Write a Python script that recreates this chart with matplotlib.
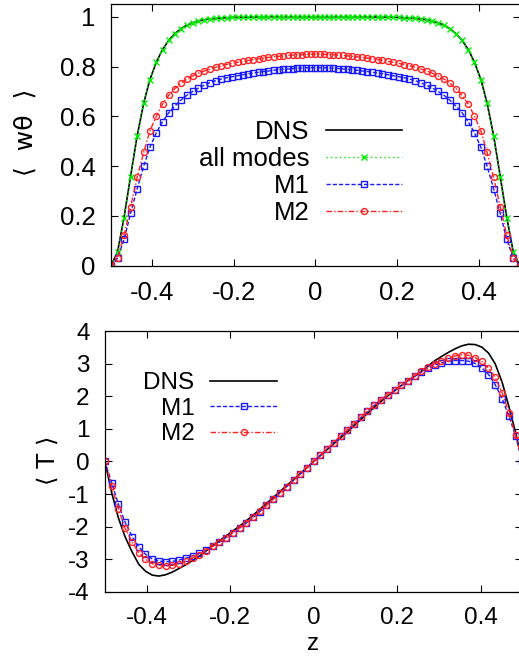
import matplotlib
matplotlib.use("Agg")
import matplotlib.pyplot as plt

plt.rcParams['font.family'] = ['Liberation Sans', 'DejaVu Sans']
plt.rcParams['axes.unicode_minus'] = False

# ---- top panel: <w theta> vs z ----
z_top = [-0.500, -0.484, -0.468, -0.452, -0.436, -0.420, -0.405, -0.389, -0.374, -0.359,
         -0.344, -0.329, -0.315, -0.300, -0.286, -0.272, -0.258, -0.244, -0.230, -0.217,
         -0.204, -0.190, -0.177, -0.164, -0.152, -0.139, -0.127, -0.115, -0.102, -0.090,
         -0.079, -0.067, -0.056, -0.044, -0.033, -0.022, -0.011, 0.000,
         0.011, 0.022, 0.033, 0.044, 0.056, 0.067, 0.079, 0.090, 0.102, 0.115,
         0.127, 0.139, 0.152, 0.164, 0.177, 0.190, 0.204, 0.217, 0.230, 0.244,
         0.258, 0.272, 0.286, 0.300, 0.315, 0.329, 0.344, 0.359, 0.374, 0.389,
         0.405, 0.420, 0.436, 0.452, 0.468, 0.484, 0.500]

wth_dns = [0.000, 0.055, 0.195, 0.360, 0.522, 0.653, 0.747, 0.818, 0.868, 0.905,
           0.932, 0.952, 0.966, 0.976, 0.983, 0.988, 0.991, 0.993, 0.995, 0.996,
           0.997, 0.998, 0.998, 0.999, 0.999, 0.999, 1.000, 1.000, 1.000, 1.000,
           1.000, 1.000, 1.000, 1.000, 1.000, 1.000, 1.000, 1.000,
           1.000, 1.000, 1.000, 1.000, 1.000, 1.000, 1.000, 1.000, 1.000, 1.000,
           1.000, 0.999, 0.999, 0.999, 0.998, 0.998, 0.997, 0.996, 0.995, 0.993,
           0.991, 0.988, 0.983, 0.976, 0.966, 0.952, 0.932, 0.905, 0.868, 0.818,
           0.747, 0.653, 0.522, 0.360, 0.195, 0.055, 0.000]

wth_all = [0.000, 0.054, 0.193, 0.358, 0.521, 0.653, 0.747, 0.818, 0.868, 0.905,
           0.932, 0.952, 0.966, 0.976, 0.983, 0.988, 0.991, 0.993, 0.995, 0.996,
           0.997, 0.998, 0.998, 0.999, 0.999, 0.999, 1.000, 1.000, 1.000, 1.000,
           1.000, 1.000, 1.000, 1.000, 1.000, 1.000, 1.000, 1.000,
           1.000, 1.000, 1.000, 1.000, 1.000, 1.000, 1.000, 1.000, 1.000, 1.000,
           1.000, 0.999, 0.999, 0.999, 0.998, 0.998, 0.997, 0.996, 0.995, 0.993,
           0.991, 0.988, 0.983, 0.976, 0.966, 0.952, 0.932, 0.905, 0.868, 0.818,
           0.747, 0.653, 0.521, 0.358, 0.193, 0.054, 0.000]

wth_m1 = [0.000, 0.030, 0.106, 0.210, 0.309, 0.400, 0.475, 0.534, 0.578, 0.614,
          0.641, 0.665, 0.684, 0.700, 0.714, 0.725, 0.735, 0.743, 0.750, 0.755,
          0.759, 0.763, 0.767, 0.771, 0.774, 0.777, 0.780, 0.782, 0.785, 0.787,
          0.789, 0.790, 0.792, 0.793, 0.794, 0.795, 0.795, 0.796,
          0.795, 0.795, 0.794, 0.793, 0.792, 0.790, 0.789, 0.787, 0.785, 0.782,
          0.780, 0.777, 0.774, 0.771, 0.767, 0.763, 0.759, 0.755, 0.750, 0.743,
          0.735, 0.725, 0.714, 0.700, 0.684, 0.665, 0.641, 0.614, 0.578, 0.534,
          0.475, 0.400, 0.309, 0.210, 0.106, 0.030, 0.000]

wth_m2 = [0.000, 0.032, 0.123, 0.237, 0.355, 0.455, 0.541, 0.601, 0.649, 0.684,
          0.711, 0.733, 0.749, 0.762, 0.773, 0.782, 0.790, 0.797, 0.803, 0.808,
          0.813, 0.817, 0.821, 0.825, 0.828, 0.831, 0.834, 0.837, 0.839, 0.841,
          0.843, 0.845, 0.846, 0.847, 0.848, 0.849, 0.850, 0.850,
          0.850, 0.849, 0.848, 0.847, 0.846, 0.845, 0.843, 0.841, 0.839, 0.837,
          0.834, 0.831, 0.828, 0.825, 0.821, 0.817, 0.813, 0.808, 0.803, 0.797,
          0.790, 0.782, 0.773, 0.762, 0.749, 0.733, 0.711, 0.684, 0.649, 0.601,
          0.541, 0.455, 0.355, 0.237, 0.123, 0.032, 0.000]

# ---- bottom panel: <T> vs z ----
z_bot = [-0.500, -0.484, -0.468, -0.452, -0.435, -0.419, -0.403, -0.387, -0.371, -0.355,
         -0.339, -0.323, -0.306, -0.290, -0.274, -0.258, -0.242, -0.226, -0.210, -0.194,
         -0.177, -0.161, -0.145, -0.129, -0.113, -0.097, -0.081, -0.065, -0.048, -0.032,
         -0.016, 0.000,
         0.016, 0.032, 0.048, 0.065, 0.081, 0.097, 0.113, 0.129, 0.145, 0.161,
         0.177, 0.194, 0.210, 0.226, 0.242, 0.258, 0.274, 0.290, 0.306, 0.323,
         0.339, 0.355, 0.371, 0.387, 0.403, 0.419, 0.435, 0.452, 0.468, 0.484, 0.500]

T_dns = [0.00, -0.96, -1.73, -2.31, -2.78, -3.16, -3.37, -3.49, -3.52, -3.48,
         -3.40, -3.29, -3.17, -3.04, -2.91, -2.75, -2.58, -2.44, -2.29, -2.14,
         -1.98, -1.82, -1.65, -1.47, -1.29, -1.11, -0.93, -0.74, -0.56, -0.37,
         -0.19, 0.00,
         0.18, 0.36, 0.54, 0.73, 0.91, 1.10, 1.29, 1.48, 1.66, 1.84,
         2.01, 2.17, 2.33, 2.48, 2.62, 2.77, 2.93, 3.09, 3.22, 3.35,
         3.46, 3.55, 3.60, 3.59, 3.51, 3.33, 3.00, 2.42, 1.68, 0.88, 0.00]

T_m1 = [0.00, -0.65, -1.31, -1.86, -2.31, -2.62, -2.85, -2.99, -3.06, -3.08,
        -3.07, -3.03, -2.97, -2.90, -2.82, -2.73, -2.61, -2.48, -2.34, -2.19,
        -2.04, -1.89, -1.72, -1.54, -1.35, -1.16, -0.97, -0.78, -0.58, -0.39,
        -0.19, 0.00,
        0.19, 0.39, 0.58, 0.78, 0.97, 1.16, 1.35, 1.54, 1.72, 1.89,
        2.04, 2.19, 2.34, 2.48, 2.61, 2.74, 2.86, 2.96, 3.03, 3.08,
        3.10, 3.10, 3.08, 3.01, 2.88, 2.67, 2.36, 1.92, 1.39, 0.78, 0.00]

T_m2 = [0.00, -0.76, -1.45, -2.04, -2.48, -2.80, -3.01, -3.14, -3.19, -3.21,
        -3.19, -3.14, -3.07, -2.97, -2.86, -2.74, -2.61, -2.48, -2.34, -2.19,
        -2.04, -1.88, -1.71, -1.53, -1.35, -1.16, -0.97, -0.78, -0.58, -0.39,
        -0.19, 0.00,
        0.19, 0.39, 0.58, 0.78, 0.97, 1.16, 1.35, 1.54, 1.72, 1.89,
        2.04, 2.19, 2.34, 2.48, 2.63, 2.77, 2.89, 3.00, 3.09, 3.17,
        3.24, 3.28, 3.26, 3.19, 3.07, 2.87, 2.58, 2.10, 1.50, 0.80, 0.00]

xticks = [-0.4, -0.2, 0, 0.2, 0.4]
xticklabels = ['-0.4', '-0.2', '0', '0.2', '0.4']
yticks_top = [0, 0.2, 0.4, 0.6, 0.8, 1]
yticklabels_top = ['0', '0.2', '0.4', '0.6', '0.8', '1']
yticks_bot = [-4, -3, -2, -1, 0, 1, 2, 3, 4]
yticklabels_bot = ['-4', '-3', '-2', '-1', '0', '1', '2', '3', '4']

W, H = 519, 662
fig = plt.figure(figsize=(W / 100, H / 100), dpi=100)
ax1 = fig.add_axes([111 / W, 1 - 265.7 / H, 408.8 / W, 261.4 / H])
ax2 = fig.add_axes([105 / W, 1 - 591.7 / H, 417.3 / W, 260.5 / H])

green = '#00ee00'
blue = '#1a1aff'
red = '#ff2020'

# top
ax1.plot(z_top, wth_dns, color='black', lw=1.2, label='DNS')
ax1.plot(z_top, wth_all, color=green, lw=1.0, dashes=(1, 2.2), marker='x',
         ms=4.5, mew=1.0, label='all modes')
ax1.plot(z_top, wth_m1, color=blue, lw=1.0, dashes=(3, 1.5), marker='s',
         ms=4.3, mew=1.0, mfc='none', label='M1')
ax1.plot(z_top, wth_m2, color=red, lw=1.0, dashes=(4, 1.5, 1, 1.5), marker='o',
         ms=4.3, mew=1.0, mfc='none', label='M2')

# bottom
ax2.plot(z_bot, T_dns, color='black', lw=1.2, label='DNS')
ax2.plot(z_bot, T_m1, color=blue, lw=1.0, dashes=(3, 1.5), marker='s',
         ms=4.3, mew=1.0, mfc='none', label='M1')
ax2.plot(z_bot, T_m2, color=red, lw=1.0, dashes=(4, 1.5, 1, 1.5), marker='o',
         ms=4.3, mew=1.0, mfc='none', label='M2')

for ax, fs in ((ax1, 18.5), (ax2, 17.5)):
    ax.set_xlim(-0.5, 0.5)
    ax.set_xticks(xticks)
    ax.set_xticklabels(xticklabels)
    ax.tick_params(direction='in', top=True, right=True, length=5, width=0.8,
                   pad=11, labelsize=fs)
    for s in ax.spines.values():
        s.set_linewidth(0.9)

ax1.set_ylim(0, 1.05)
ax1.set_yticks(yticks_top)
ax1.set_yticklabels(yticklabels_top)
ax2.set_ylim(-4, 4)
ax2.set_yticks(yticks_bot)
ax2.set_yticklabels(yticklabels_bot)

ax1.set_ylabel('\u27e8  w\u03b8  \u27e9', fontsize=18, va='center',
               family=['DejaVu Sans'])
ax1.yaxis.set_label_coords((26 - 111) / 408.8, (265.7 - 132) / 261.4)
ax2.set_ylabel('\u27e8 T \u27e9', fontsize=17.5, va='center',
               family=['DejaVu Sans'])
ax2.yaxis.set_label_coords((48 - 105) / 417.3, (591.7 - 460) / 260.5)
ax2.set_xlabel('z', fontsize=17.5)
ax2.xaxis.set_label_coords((313 - 105) / 417.3, (591.7 - 633) / 260.5)

ax1.legend(loc='upper right', bbox_to_anchor=(402 / W, 1 - 120 / H),
           bbox_transform=fig.transFigure, frameon=False, markerfirst=False,
           fontsize=18.5, handlelength=2.95, handletextpad=0.65,
           labelspacing=0.12, borderpad=0, borderaxespad=0, numpoints=1)
ax2.legend(loc='upper right', bbox_to_anchor=(277 / W, 1 - 372 / H),
           bbox_transform=fig.transFigure, frameon=False, markerfirst=False,
           fontsize=17.5, handlelength=2.75, handletextpad=0.65,
           labelspacing=0.15, borderpad=0, borderaxespad=0, numpoints=1)

fig.savefig('out.png', dpi=100)
